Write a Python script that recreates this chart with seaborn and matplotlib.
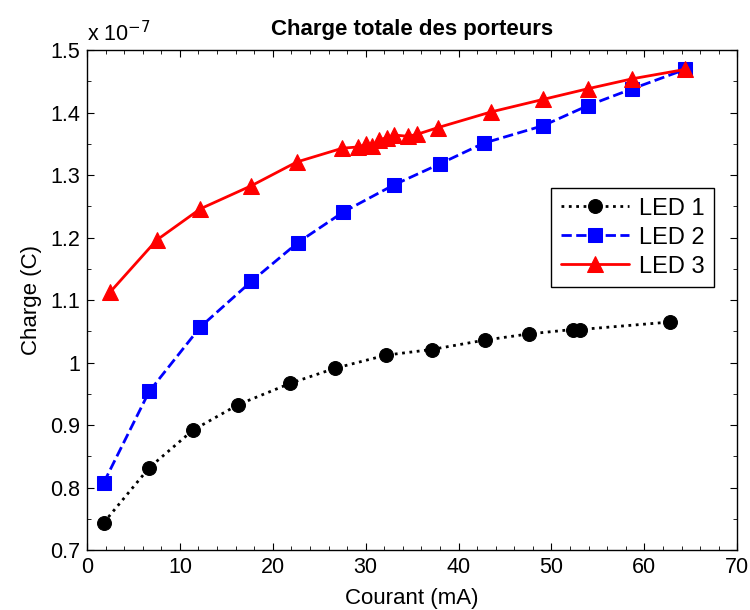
import pandas as pd
import matplotlib
matplotlib.use("Agg")
import matplotlib.pyplot as plt
from matplotlib.ticker import MultipleLocator, FormatStrFormatter
import seaborn as sns

# values (charge in units of 1e-7 C)
led1_courant = [1.8, 6.7, 11.4, 16.3, 21.9, 26.7, 32.2, 37.1, 42.8, 47.6, 52.3, 53.1, 62.8]
led1_charge = [0.744, 0.832, 0.892, 0.933, 0.967, 0.991, 1.012, 1.021, 1.036, 1.046, 1.053, 1.053, 1.065]

led2_courant = [1.8, 6.7, 12.2, 17.7, 22.7, 27.6, 33.0, 38.0, 42.7, 49.1, 53.9, 58.7, 64.4]
led2_charge = [0.808, 0.954, 1.057, 1.130, 1.192, 1.241, 1.284, 1.318, 1.351, 1.379, 1.411, 1.438, 1.469]

led3_courant = [2.5, 7.5, 12.2, 17.7, 22.6, 27.5, 29.2, 30.0, 30.7, 31.4, 32.3, 33.1,
                34.6, 35.5, 37.8, 43.5, 49.1, 53.9, 58.7, 64.4]
led3_charge = [1.113, 1.196, 1.246, 1.283, 1.321, 1.343, 1.345, 1.349, 1.346, 1.356, 1.360, 1.364,
               1.362, 1.365, 1.376, 1.401, 1.421, 1.438, 1.454, 1.469]

series = [
    ("LED 1", led1_courant, led1_charge, "black", ":", "o", 10),
    ("LED 2", led2_courant, led2_charge, "blue", "--", "s", 9.5),
    ("LED 3", led3_courant, led3_charge, "red", "-", "^", 11.5),
]

sns.set_style("ticks")
plt.rcParams["font.family"] = ["Liberation Sans", "DejaVu Sans"]
plt.rcParams["text.color"] = "black"
plt.rcParams["axes.labelcolor"] = "black"
plt.rcParams["xtick.color"] = "black"
plt.rcParams["ytick.color"] = "black"

fig = plt.figure(figsize=(7.5, 6.1), dpi=100)
ax = fig.add_axes([0.116, 0.098, 0.867, 0.82])

for name, xs, ys, color, ls, mk, ms in series:
    df = pd.DataFrame({"courant": xs, "charge": ys})
    sns.lineplot(data=df, x="courant", y="charge", ax=ax, color=color, linestyle=ls,
                 linewidth=2, marker=mk, markersize=ms, markeredgecolor=color,
                 sort=False, estimator=None, label=name)

ax.set_xlim(0, 70)
ax.set_ylim(0.7, 1.5)
ax.xaxis.set_major_locator(MultipleLocator(10))
ax.xaxis.set_minor_locator(MultipleLocator(2))
ax.yaxis.set_major_locator(MultipleLocator(0.1))
ax.yaxis.set_minor_locator(MultipleLocator(0.05))
ax.yaxis.set_major_formatter(FormatStrFormatter("%g"))
ax.tick_params(which="both", direction="in", top=True, right=True, labelsize=15.5)
ax.tick_params(which="major", length=5, pad=5)
ax.tick_params(which="minor", length=3)
for sp in ax.spines.values():
    sp.set_linewidth(1.0)
    sp.set_color("black")

ax.set_title("Charge totale des porteurs", fontsize=16, fontweight="bold", pad=11)
ax.set_xlabel("Courant (mA)", fontsize=16, labelpad=7)
ax.set_ylabel("Charge (C)", fontsize=16, labelpad=6)
ax.text(0.0, 1.008, r"x 10$^{-7}$", transform=ax.transAxes, fontsize=15.5, ha="left", va="bottom")

leg = ax.legend(loc="upper left", bbox_to_anchor=(0.714, 0.724), fontsize=17,
                frameon=True, fancybox=False, edgecolor="black", framealpha=1,
                handlelength=2.9, handletextpad=0.4, borderpad=0.4, labelspacing=0.3,
                borderaxespad=0)
leg.get_frame().set_linewidth(1.0)

fig.savefig("out.png", dpi=100)
